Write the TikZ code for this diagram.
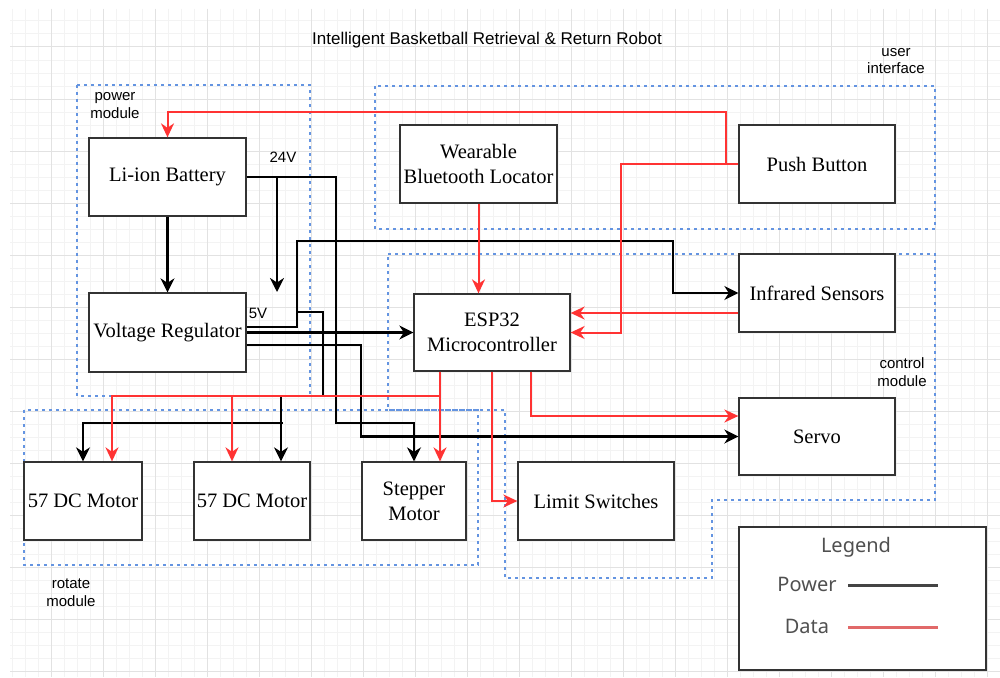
\documentclass[tikz,border=0pt]{standalone}
\usepackage{fontspec}
\setmainfont{Liberation Serif}
\newfontfamily\lsans{Liberation Sans}
\newfontfamily\lgnd{Noto Sans}
\usetikzlibrary{arrows.meta}
\definecolor{dred}{RGB}{255,51,51}
\definecolor{dotblue}{RGB}{100,148,225}
\definecolor{boxgray}{RGB}{51,51,51}
\definecolor{gminor}{RGB}{243,243,243}
\definecolor{gmajor}{RGB}{226,226,226}
\definecolor{lgtext}{RGB}{80,80,80}
\definecolor{lgdark}{RGB}{68,68,68}
\definecolor{lgred}{RGB}{225,105,105}
\begin{document}
\begin{tikzpicture}[x=1pt,y=-1pt,
  blk/.style={draw=boxgray,line width=1.3pt,fill=white,inner sep=0pt,align=center,
    font=\fontsize{20.5}{25}\selectfont},
  pw/.style={draw=black,line width=2.3pt,-{Stealth[length=14pt,width=14pt,inset=4.5pt]}},
  dt/.style={draw=dred,line width=2pt,-{Stealth[length=14pt,width=13pt,inset=4.5pt]}},
  modbox/.style={draw=dotblue,line width=2.8pt,dash pattern=on 2.8pt off 4.2pt},
  lab/.style={font=\lsans\fontsize{15}{17.5}\selectfont,align=center,inner sep=0pt},
  lgt/.style={font=\lgnd\fontsize{20}{24}\selectfont,text=lgtext,inner sep=0pt}
]
\useasboundingbox (0,0) rectangle (1000,677);
\fill[white] (0,0) rectangle (1000,677);
% grid
\begin{scope}
\clip (10,9) rectangle (1000,677);
\foreach \i in {0,...,76} {
  \draw[gminor,line width=1pt] (12+13*\i,9) -- (12+13*\i,677);
}
\foreach \i in {0,...,52} {
  \draw[gminor,line width=1pt] (10,8+13*\i) -- (1000,8+13*\i);
}
\foreach \i in {0,...,18} {
  \draw[gmajor,line width=1pt] (51+52*\i,9) -- (51+52*\i,677);
}
\foreach \i in {0,...,12} {
  \draw[gmajor,line width=1pt] (10,47+52*\i) -- (1000,47+52*\i);
}
\end{scope}

% module outlines
\draw[modbox] (77,85) rectangle (310,396);
\draw[modbox] (375,86) rectangle (935,229);
\draw[modbox] (388,254) -- (935,254) -- (935,500) -- (712,500) -- (712,578) -- (505,578) -- (505,410) -- (388,410) -- cycle;
\draw[modbox] (24,410) rectangle (478,565);

% labels
\node[font=\lsans\fontsize{17}{20}\selectfont] (title) at (487,40) {Intelligent Basketball Retrieval \& Return Robot};
\node[lab] (lpower) at (115,105.5) {power\\module};
\node[lab] (luser) at (896,61) {user\\interface};
\node[lab] (lctrl) at (902,372) {control\\module};
\node[lab] (lrot) at (71,592.5) {rotate\\module};
\node[lab] (l24) at (283,157) {24V};
\node[lab] (l5) at (258,313) {5V};

% boxes
\node[blk,minimum width=157,minimum height=78] (bat) at (167.5,177) {Li-ion Battery};
\node[blk,minimum width=157,minimum height=79] (vr) at (167.5,332.5) {Voltage Regulator};
\node[blk,minimum width=157,minimum height=78] (wbl) at (478.5,164) {Wearable\\Bluetooth Locator};
\node[blk,minimum width=156,minimum height=78] (pb) at (817,164) {Push Button};
\node[blk,minimum width=156,minimum height=77] (esp) at (492,332.5) {ESP32\\Microcontroller};
\node[blk,minimum width=156,minimum height=78] (ir) at (817,293) {Infrared Sensors};
\node[blk,minimum width=156,minimum height=77] (servo) at (817,436.5) {Servo};
\node[blk,minimum width=156,minimum height=78] (ls) at (596,501) {Limit Switches};
\node[blk,minimum width=118,minimum height=78] (m1) at (83,501) {57 DC Motor};
\node[blk,minimum width=116,minimum height=78] (m2) at (252,501) {57 DC Motor};
\node[blk,minimum width=104,minimum height=78] (sm) at (414,501) {Stepper\\Motor};

\coordinate (v24) at (277,292);

% power connectors
\draw[pw] (bat.south) -- (vr.north);
\draw[pw] (bat.east) -| (v24);
\draw[pw] (bat.east) -| (336,423) -| (sm.north);
\draw[pw] (vr.east |- 0,327) -| (297,241) -| (673,293) -- (ir.west);
\draw[pw] (vr.east) -- (esp.west);
\draw[pw] (vr.east |- 0,345) -| (361,436.5) -- (servo.west);
\draw[pw] (297,312) -- (323,312) -- (323,396) -- (281,396) -- (m2.north -| 281,0);
\draw[pw] (283,423) -- (m1.north |- 0,423) -- (m1.north);

% data connectors
\draw[dt] (pb.west) -| (726,112) -| (bat.north);
\draw[dt] (pb.west) -| (621,332.5) -- (esp.east);
\draw[dt] (ir.west |- 0,313) -- (esp.east |- 0,313);
\draw[dt] (wbl.south) -- (wbl.south |- esp.north);
\draw[dt] (esp.south -| 440,0) -- (440,396) -| (m1.north -| 112,0);
\draw[dt] (232,396) -- (m2.north -| 232,0);
\draw[dt] (esp.south -| 440,0) -- (sm.north -| 440,0);
\draw[dt] (esp.south -| 492,0) |- (ls.west);
\draw[dt] (esp.south -| 531,0) |- (servo.west |- 0,416);

% legend
\node[draw=boxgray,line width=1.5pt,fill=white,minimum width=247,minimum height=143,inner sep=0pt] (legend) at (862.5,598.5) {};
\node[lgt] (lgtitle) at (856,547) {Legend};
\node[lgt] (lgpow) at (807,584) {Power};
\node[lgt] (lgdat) at (807,626) {Data};
\coordinate (lpa) at (848,585);
\coordinate (lpb) at (938,585);
\coordinate (lda) at (848,627);
\coordinate (ldb) at (938,627);
\draw[lgdark,line width=3pt] (lpa) -- (lpb);
\draw[lgred,line width=3pt] (lda) -- (ldb);
\end{tikzpicture}
\end{document}
